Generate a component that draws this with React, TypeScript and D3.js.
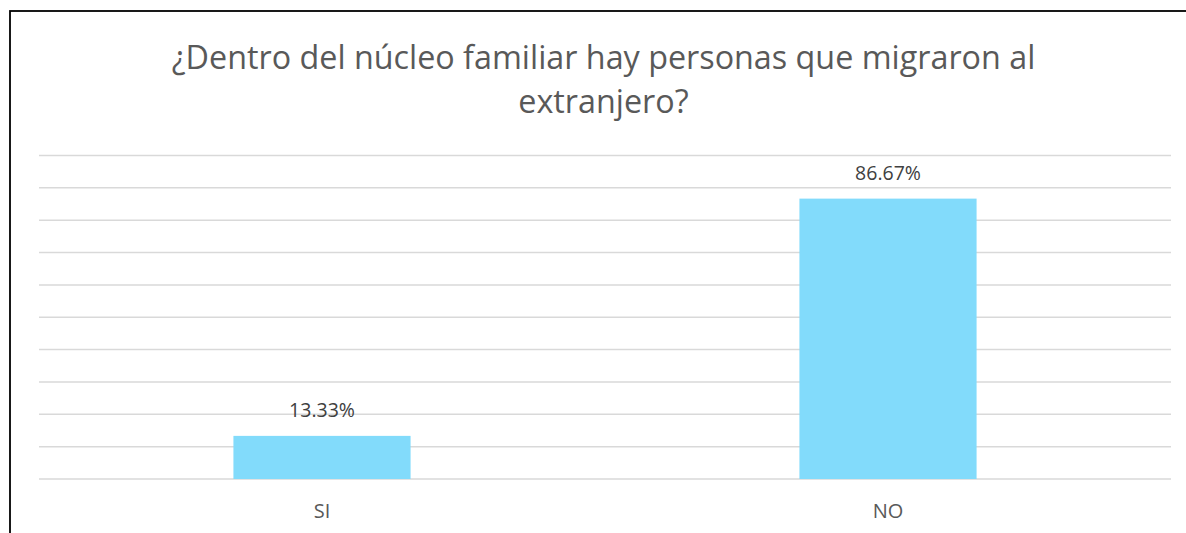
import React from "react";
import * as d3 from "d3";

const categories: string[] = ["SI", "NO"];
const values: number[] = [13.33, 86.67];
const yTicks: number[] = [0, 10, 20, 30, 40, 50, 60, 70, 80, 90, 100];
const titleLines: string[] = [
  "¿Dentro del núcleo familiar hay personas que migraron al",
  "extranjero?",
];

const W = 1186;
const H = 533;
const FONT = "'Open Sans', 'Noto Sans', sans-serif";

export default function App() {
  const left = 39;
  const right = 1171;
  const top = 155.5;
  const bottom = 479;

  const x = d3
    .scaleBand<string>()
    .domain(categories)
    .range([left, right])
    .paddingInner(0.687)
    .paddingOuter(0.3435);
  const y = d3.scaleLinear().domain([0, 100]).range([bottom, top]);
  const cx = (left + right) / 2;

  return (
    <svg
      width={W}
      height={H}
      style={{ position: "absolute", left: 0, top: 0, background: "#fff" }}
    >
      <rect x={0} y={0} width={W} height={H} fill="#fff" />
      <rect
        x={10}
        y={11}
        width={W + 20}
        height={H + 20}
        fill="none"
        stroke="#000"
        strokeWidth={1.8}
      />
      {titleLines.map((t, i) => (
        <text
          key={i}
          x={cx - 1.5}
          y={69 + i * 44}
          textAnchor="middle"
          fontFamily={FONT}
          fontSize={32.3}
          fill="#595959"
        >
          {t}
        </text>
      ))}
      {yTicks.map((t) => (
        <line
          key={t}
          x1={left}
          x2={right}
          y1={y(t)}
          y2={y(t)}
          stroke="#D9D9D9"
          strokeWidth={1.5}
        />
      ))}
      {categories.map((c, i) => (
        <g key={c}>
          <rect
            x={x(c)!}
            y={y(values[i])}
            width={x.bandwidth()}
            height={y(0) - y(values[i])}
            fill="#82DBFB"
          />
          <text
            x={x(c)! + x.bandwidth() / 2}
            y={y(values[i]) - 18.5}
            textAnchor="middle"
            fontFamily={FONT}
            fontSize={19.5}
            fill="#404040"
          >
            {values[i].toFixed(2) + "%"}
          </text>
          <text
            x={x(c)! + x.bandwidth() / 2}
            y={518}
            textAnchor="middle"
            fontFamily={FONT}
            fontSize={20}
            fill="#595959"
          >
            {c}
          </text>
        </g>
      ))}
    </svg>
  );
}
